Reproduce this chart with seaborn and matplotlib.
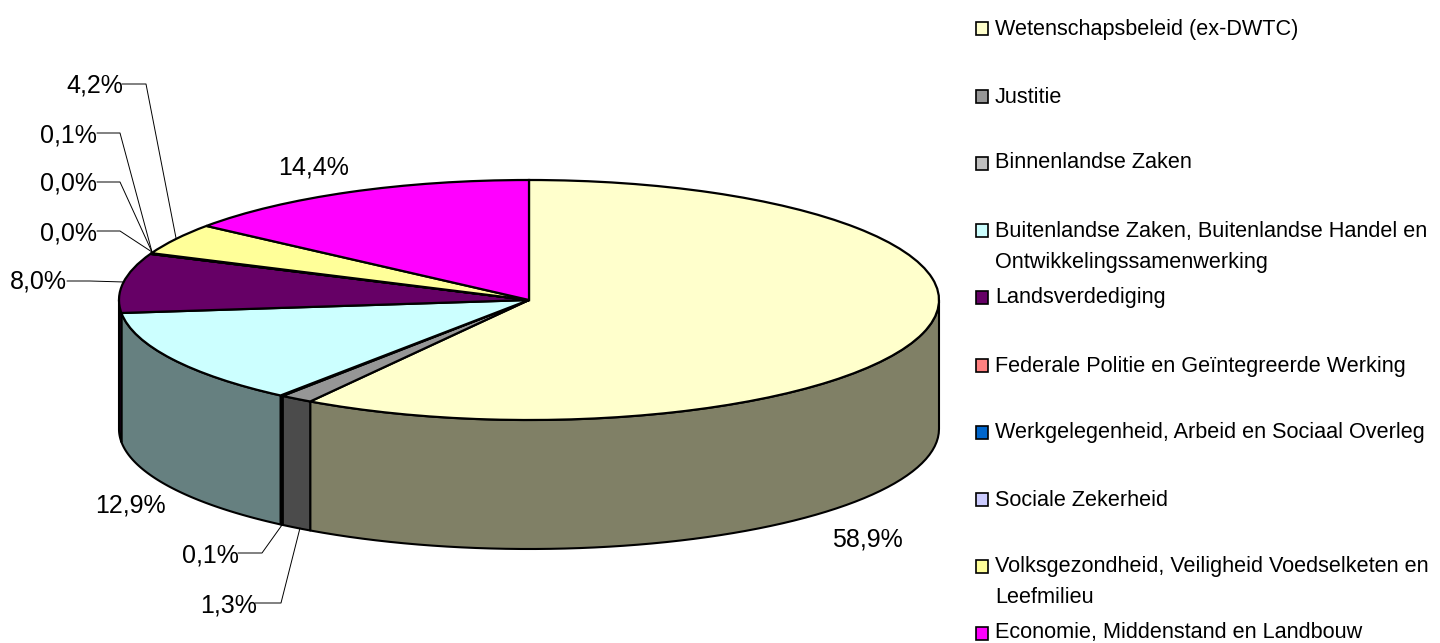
import numpy as np
import matplotlib
matplotlib.use('Agg')
import matplotlib.pyplot as plt
from matplotlib.patches import Rectangle
import seaborn as sns

# Data
categories = [
    'Wetenschapsbeleid (ex-DWTC)',
    'Justitie',
    'Binnenlandse Zaken',
    'Buitenlandse Zaken, Buitenlandse Handel en\nOntwikkelingssamenwerking',
    'Landsverdediging',
    'Federale Politie en Geïntegreerde Werking',
    'Werkgelegenheid, Arbeid en Sociaal Overleg',
    'Sociale Zekerheid',
    'Volksgezondheid, Veiligheid Voedselketen en\nLeefmilieu',
    'Economie, Middenstand en Landbouw',
]
values = [58.9, 1.3, 0.1, 12.9, 8.0, 0.0, 0.0, 0.1, 4.2, 14.4]
colors = ['#FFFFCC', '#969696', '#C0C0C0', '#CCFFFF', '#660066',
          '#FF8080', '#0066CC', '#CCCCFF', '#FFFF99', '#FF00FF']

sns.set_theme(style='white')
plt.rcParams['font.family'] = ['Liberation Sans', 'DejaVu Sans']
palette = sns.color_palette(colors)

# Pie geometry in pixels
cx, cy, rx, ry, depth = 529, 300, 410, 120, 129


def px(x, y):
    return (x - cx) / rx, (cy - y) / ry


fig = plt.figure(figsize=(14.4, 6.43), dpi=100)
ax = fig.add_axes([0, 0, 1, 1])

# Side wall, only the front half (90 to 270 degrees clockwise from the top)
d = depth / ry
edges = np.cumsum([0] + values) / sum(values) * 360
for i, col in enumerate(palette):
    start, end = max(edges[i], 90), min(edges[i + 1], 270)
    if end <= start:
        continue
    t = np.radians(np.linspace(start, end, 60))
    xs = np.sin(t)
    ys = np.cos(t)
    dark = tuple(c * 0.5 for c in col)
    ax.fill(np.r_[xs, xs[::-1]], np.r_[ys, ys[::-1] - d], facecolor=dark,
            edgecolor='black', linewidth=1.5, joinstyle='round', zorder=1)

# Top surface
wedges, _ = ax.pie(values, colors=palette, startangle=90, counterclock=False,
                   radius=1, wedgeprops={'edgecolor': 'black', 'linewidth': 1.6, 'zorder': 2})
ax.set_aspect('auto')
ax.set_xlim(-cx / rx, (1440 - cx) / rx)
ax.set_ylim((cy - 643) / ry, cy / ry)
ax.axis('off')

# Percentage labels: text, x, baseline y, horizontal alignment
pct_labels = [
    ('14,4%', 314, 175, 'center'), ('4,2%', 123, 93, 'right'),
    ('0,1%', 97, 142, 'right'), ('0,0%', 97, 191, 'right'),
    ('0,0%', 97, 240, 'right'), ('8,0%', 67, 289, 'right'),
    ('12,9%', 166, 513, 'right'), ('0,1%', 239, 562, 'right'),
    ('1,3%', 257, 612, 'right'), ('58,9%', 867, 546, 'center'),
]
for s, x, y, ha in pct_labels:
    ax.text(*px(x, y), s, ha=ha, va='baseline', fontsize=18, color='black', zorder=5)

# Leader lines
leaders = [
    [(122, 84), (146, 84), (176, 238)],
    [(97, 133), (120, 133), (152, 252)],
    [(97, 182), (120, 182), (152, 252)],
    [(97, 231), (120, 231), (152, 252)],
    [(67, 281), (90, 281), (124, 282)],
    [(238, 553), (262, 553), (282, 525)],
    [(255, 603), (281, 603), (300, 528)],
]
for pts in leaders:
    lx, ly = zip(*[px(*p) for p in pts])
    ax.plot(lx, ly, color='black', linewidth=0.7, zorder=4)

# Legend built by hand because the rows are unevenly wrapped
marker_y = [28.5, 96.5, 163, 230.5, 297, 365, 432, 499.5, 566.5, 633]
text_y = [35, 103, 168, 237, 303, 372, 438, 506, 572, 638]
w, h = 12 / rx, 13 / ry
for name, col, my, ty in zip(categories, palette, marker_y, text_y):
    mx, myd = px(976, my + 6.5)
    ax.add_patch(Rectangle((mx, myd), w, h, facecolor=col, edgecolor='black',
                           linewidth=1.2, clip_on=False, zorder=5))
    lines = name.split('\n')
    for j, line in enumerate(lines):
        ax.text(*px(995, ty + j * 31), line, ha='left', va='baseline', fontsize=15.6,
                color='black', zorder=5)

fig.savefig('out.png', dpi=100, facecolor='white')
